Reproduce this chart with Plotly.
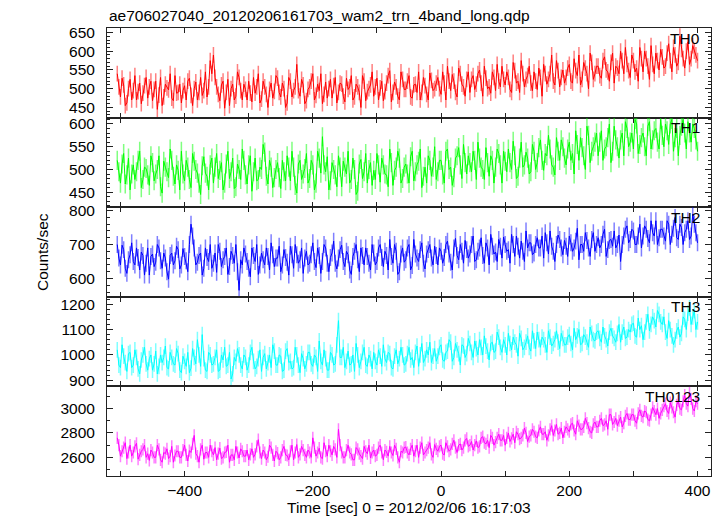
import plotly.graph_objects as go
from plotly.subplots import make_subplots

TITLE = "ae706027040_20120206161703_wam2_trn_4band_long.qdp"
BANDS = ["TH0", "TH1", "TH2", "TH3", "TH0123"]
# bin start times (s) and the in-between bin times (s)
TIME_A = [t for t in range(-505, 401, 5)]
TIME_B = [t + 2.5 for t in range(-505, 400, 5)]

TH0_A = [540, 478, 510, 462, 525, 495, 470, 515, 488, 530,
         505, 468, 520, 483, 455, 512, 497, 475, 535, 490,
         462, 508, 520, 482, 500, 470, 530, 495, 478, 575,
         590, 505, 468, 520, 490, 455, 512, 480, 530, 470,
         498, 520, 465, 488, 540, 472, 505, 450, 515, 493,
         528, 478, 500, 462, 520, 495, 565, 480, 510, 468,
         505, 540, 482, 495, 460, 518, 500, 475, 530, 490,
         512, 465, 498, 535, 478, 505, 450, 520, 492, 510,
         480, 528, 502, 468, 515, 548, 490, 505, 470, 525,
         498, 535, 475, 512, 545, 490, 508, 470, 522, 500,
         530, 485, 515, 560, 495, 520, 478, 540, 505, 525,
         490, 535, 512, 550, 480, 528, 505, 545, 495, 520,
         560, 510, 530, 490, 548, 520, 575, 505, 535, 515,
         545, 498, 530, 565, 512, 540, 520, 575, 505, 550,
         530, 565, 515, 548, 590, 525, 555, 500, 570, 540,
         560, 528, 585, 545, 570, 515, 555, 600, 540, 565,
         530, 575, 555, 610, 545, 580, 525, 565, 595, 550,
         585, 560, 620, 545, 590, 570, 605, 555, 625, 580,
         600, 575]
TH0_B = [505, 528, 455, 500, 470, 535, 492, 460, 508, 475,
         520, 498, 445, 530, 478, 502, 540, 468, 488, 512,
         495, 470, 528, 455, 518, 490, 482, 545, 505, 540,
         530, 485, 510, 448, 525, 500, 470, 545, 495, 512,
         470, 488, 530, 505, 462, 520, 485, 498, 475, 535,
         490, 515, 450, 530, 478, 505, 495, 525, 460, 498,
         520, 470, 512, 540, 485, 475, 525, 508, 462, 515,
         480, 528, 505, 470, 512, 490, 535, 468, 500, 545,
         505, 470, 520, 492, 535, 465, 518, 480, 545, 498,
         520, 478, 510, 490, 470, 530, 485, 542, 495, 515,
         500, 545, 470, 520, 538, 490, 555, 512, 480, 545,
         525, 498, 540, 515, 560, 500, 488, 530, 565, 505,
         525, 545, 498, 570, 515, 490, 540, 525, 560, 495,
         520, 555, 480, 540, 525, 590, 510, 548, 530, 515,
         555, 520, 580, 535, 510, 570, 540, 595, 525, 560,
         535, 575, 550, 520, 595, 560, 540, 575, 610, 548,
         590, 545, 520, 580, 600, 560, 615, 540, 575, 605,
         555, 595, 575, 610, 560, 640, 580, 600, 565, 615,
         590]

TH1_A = [520, 470, 535, 488, 455, 510, 495, 540, 478, 502,
         465, 515, 490, 530, 448, 505, 482, 520, 468, 498,
         540, 475, 505, 460, 518, 492, 445, 528, 485, 510,
         470, 535, 498, 455, 512, 480, 525, 462, 500, 545,
         488, 510, 452, 525, 478, 500, 538, 468, 505, 482,
         515, 458, 495, 530, 475, 505, 448, 520, 490, 535,
         480, 510, 470, 525, 572, 495, 455, 515, 488, 530,
         462, 505, 540, 478, 500, 452, 522, 495, 470, 515,
         498, 535, 472, 510, 488, 545, 465, 505, 525, 480,
         512, 470, 540, 495, 518, 460, 505, 530, 485, 550,
         495, 520, 470, 545, 505, 482, 530, 510, 555, 490,
         515, 540, 478, 525, 500, 548, 485, 520, 505, 535,
         470, 518, 545, 500, 530, 485, 560, 510, 525, 495,
         540, 515, 565, 498, 530, 545, 505, 570, 520, 550,
         510, 560, 535, 585, 520, 548, 500, 575, 540, 560,
         530, 585, 545, 570, 515, 595, 550, 565, 530, 590,
         560, 545, 600, 555, 580, 530, 605, 565, 590, 545,
         575, 600, 555, 610, 570, 530, 595, 580, 605, 560,
         590, 540]
TH1_B = [495, 512, 468, 525, 490, 478, 520, 460, 505, 488,
         530, 475, 500, 462, 518, 495, 545, 485, 510, 455,
         490, 520, 478, 535, 500, 470, 508, 492, 455, 525,
         505, 480, 515, 470, 540, 495, 458, 512, 478, 520,
         468, 530, 495, 475, 505, 555, 485, 520, 460, 500,
         482, 520, 475, 505, 540, 465, 512, 478, 502, 470,
         520, 455, 540, 492, 510, 528, 475, 500, 462, 505,
         518, 490, 470, 525, 445, 512, 480, 535, 500, 465,
         478, 510, 525, 490, 462, 515, 498, 540, 470, 505,
         490, 528, 475, 510, 545, 485, 470, 520, 505, 478,
         520, 488, 540, 500, 465, 525, 548, 480, 515, 530,
         495, 520, 560, 505, 478, 515, 530, 470, 545, 510,
         540, 495, 515, 562, 480, 525, 505, 538, 490, 555,
         500, 548, 520, 535, 575, 510, 488, 540, 565, 525,
         545, 520, 490, 555, 570, 530, 595, 515, 550, 580,
         560, 520, 550, 600, 540, 565, 525, 580, 605, 550,
         580, 610, 535, 570, 550, 595, 545, 585, 560, 610,
         550, 585, 600, 540, 590, 575, 610, 545, 580, 600,
         565]

TH2_A = [700, 640, 685, 615, 670, 650, 690, 625, 668, 645,
         610, 672, 648, 690, 630, 660, 598, 675, 652, 685,
         640, 665, 620, 760, 690, 648, 675, 630, 662, 700,
         645, 618, 680, 655, 690, 635, 668, 700, 565, 640,
         672, 630, 690, 650, 612, 675, 640, 665, 705, 635,
         660, 620, 685, 648, 695, 630, 670, 655, 615, 680,
         645, 705, 632, 668, 650, 690, 620, 675, 645, 660,
         698, 635, 670, 612, 680, 655, 690, 640, 665, 625,
         675, 650, 700, 635, 668, 715, 645, 680, 620, 690,
         655, 700, 638, 672, 650, 705, 628, 685, 660, 695,
         640, 680, 662, 710, 648, 690, 668, 700, 645, 685,
         672, 725, 655, 690, 668, 705, 640, 695, 678, 715,
         660, 700, 685, 730, 665, 695, 710, 650, 690, 705,
         675, 720, 690, 660, 705, 740, 680, 700, 715, 670,
         695, 725, 680, 710, 655, 700, 735, 690, 715, 680,
         720, 700, 745, 685, 715, 740, 700, 650, 725, 755,
         715, 740, 700, 760, 725, 745, 705, 735, 770, 720,
         745, 710, 760, 730, 780, 715, 750, 735, 770, 725,
         760, 705]
TH2_B = [660, 698, 630, 655, 705, 640, 662, 678, 610, 690,
         665, 635, 700, 652, 675, 620, 668, 640, 695, 628,
         688, 652, 700, 725, 640, 668, 610, 690, 650, 630,
         675, 700, 635, 665, 612, 680, 645, 620, 655, 690,
         650, 605, 668, 700, 640, 655, 690, 625, 670, 660,
         695, 640, 662, 610, 670, 700, 645, 690, 660, 640,
         670, 650, 690, 615, 700, 645, 662, 710, 628, 685,
         650, 680, 625, 665, 700, 620, 668, 690, 645, 700,
         640, 690, 662, 680, 625, 665, 700, 612, 672, 648,
         690, 625, 715, 660, 685, 645, 672, 700, 640, 668,
         690, 645, 700, 672, 625, 718, 655, 680, 712, 660,
         700, 650, 680, 720, 645, 690, 730, 672, 650, 695,
         722, 680, 645, 700, 725, 660, 680, 740, 705, 670,
         700, 690, 725, 735, 672, 695, 650, 728, 690, 712,
         665, 705, 690, 748, 700, 680, 712, 665, 735, 700,
         690, 730, 665, 712, 695, 690, 728, 700, 745, 705,
         745, 700, 725, 690, 755, 718, 770, 725, 700, 745,
         725, 770, 700, 748, 720, 760, 700, 745, 715, 790,
         735]

TH3_A = [1020, 950, 995, 935, 1010, 960, 990, 925, 1000, 965,
         985, 940, 1015, 955, 970, 1035, 945, 990, 960, 1005,
         930, 975, 1010, 948, 990, 1060, 955, 985, 935, 1000,
         965, 1020, 940, 980, 955, 1010, 925, 975, 1000, 945,
         990, 960, 1030, 945, 985, 935, 1005, 970, 950, 1015,
         960, 995, 940, 1025, 975, 950, 1000, 930, 985, 965,
         1010, 955, 990, 1055, 960, 985, 940, 1000, 965, 1135,
         990, 950, 1015, 965, 935, 1000, 975, 1030, 955, 985,
         1010, 960, 995, 1040, 970, 1005, 945, 1020, 985, 1000,
         965, 1030, 990, 1010, 955, 1045, 985, 1000, 970, 1025,
         995, 1040, 975, 1015, 1050, 990, 1020, 960, 1035, 1005,
         1045, 990, 1025, 1060, 1000, 1035, 980, 1050, 1015, 1070,
         1010, 1040, 1085, 1020, 1050, 995, 1065, 1030, 1075, 1015,
         1055, 1090, 1030, 1060, 1010, 1070, 1045, 1095, 1025, 1065,
         1040, 1080, 1020, 1060, 1100, 1045, 1070, 1030, 1085, 1055,
         1095, 1050, 1075, 1035, 1105, 1065, 1085, 1050, 1110, 1070,
         1090, 1125, 1070, 1100, 1060, 1130, 1095, 1150, 1110, 1160,
         1120, 1090, 1135, 1075, 1060, 1110, 1085, 1140, 1165, 1120,
         1175, 1130]
TH3_B = [960, 1040, 970, 1005, 950, 1020, 945, 980, 1030, 940,
         1000, 965, 925, 1000, 990, 950, 1010, 965, 1025, 940,
         995, 955, 930, 1025, 965, 1000, 1080, 940, 1010, 960,
         990, 935, 1000, 1030, 960, 905, 990, 1025, 960, 1000,
         940, 1010, 975, 955, 1020, 990, 945, 1000, 1040, 960,
         1000, 935, 1015, 970, 945, 1030, 960, 1005, 945, 1010,
         965, 1000, 935, 975, 1020, 940, 1010, 960, 1040, 990,
         1030, 975, 960, 1000, 1045, 950, 1010, 960, 1000, 945,
         975, 1020, 955, 985, 1010, 950, 995, 965, 1030, 960,
         1005, 980, 950, 1035, 1000, 970, 1020, 1050, 995, 975,
         1030, 980, 1010, 1060, 975, 1045, 1005, 1040, 990, 1065,
         1010, 1055, 1000, 1030, 1075, 1015, 1045, 1010, 1090, 1030,
         1060, 1000, 1045, 1070, 1040, 1085, 1020, 1050, 1030, 1095,
         1025, 1060, 1070, 1040, 1095, 1035, 1060, 1050, 1085, 1040,
         1070, 1045, 1105, 1075, 1040, 1080, 1050, 1110, 1060, 1090,
         1065, 1110, 1060, 1090, 1075, 1050, 1120, 1090, 1065, 1100,
         1120, 1075, 1145, 1115, 1090, 1160, 1120, 1135, 1175, 1130,
         1150, 1065, 1100, 1040, 1095, 1070, 1150, 1100, 1185, 1150,
         1100]

TH0123_A = [2760, 2610, 2680, 2590, 2700, 2640, 2715, 2620, 2665, 2600,
            2575, 2640, 2600, 2665, 2560, 2630, 2590, 2690, 2615, 2650,
            2600, 2700, 2570, 2640, 2780, 2610, 2665, 2585, 2640, 2700,
            2620, 2580, 2675, 2600, 2645, 2560, 2620, 2690, 2595, 2650,
            2610, 2580, 2670, 2625, 2745, 2590, 2640, 2605, 2680, 2570,
            2635, 2600, 2690, 2615, 2650, 2580, 2705, 2625, 2660, 2600,
            2640, 2760, 2610, 2675, 2590, 2650, 2700, 2620, 2665, 2830,
            2640, 2600, 2700, 2625, 2580, 2665, 2610, 2690, 2630, 2595,
            2660, 2620, 2700, 2580, 2645, 2690, 2615, 2670, 2560, 2640,
            2685, 2620, 2700, 2650, 2600, 2720, 2640, 2680, 2625, 2705,
            2650, 2700, 2620, 2690, 2665, 2740, 2640, 2710, 2680, 2755,
            2700, 2660, 2735, 2690, 2770, 2710, 2680, 2760, 2725, 2790,
            2740, 2700, 2800, 2755, 2720, 2790, 2760, 2840, 2730, 2780,
            2810, 2760, 2850, 2790, 2740, 2830, 2780, 2870, 2800, 2760,
            2850, 2810, 2880, 2790, 2860, 2830, 2920, 2840, 2800, 2890,
            2850, 2920, 2870, 2830, 2950, 2890, 2860, 2930, 2880, 2960,
            2910, 2950, 2880, 2990, 2930, 2970, 2900, 3010, 2950, 2920,
            2990, 3040, 2960, 3010, 2930, 3060, 2990, 3110, 3020, 3080,
            2980, 3040]
TH0123_B = [2700, 2650, 2720, 2640, 2610, 2690, 2585, 2650, 2700, 2630,
            2660, 2600, 2700, 2580, 2640, 2670, 2610, 2560, 2650, 2600,
            2660, 2620, 2655, 2710, 2630, 2560, 2700, 2640, 2600, 2650,
            2680, 2630, 2590, 2640, 2700, 2620, 2580, 2640, 2670, 2610,
            2660, 2625, 2600, 2690, 2640, 2660, 2580, 2700, 2620, 2650,
            2580, 2660, 2620, 2580, 2700, 2640, 2600, 2690, 2620, 2660,
            2600, 2680, 2640, 2600, 2720, 2610, 2650, 2690, 2600, 2700,
            2600, 2660, 2640, 2580, 2680, 2630, 2590, 2650, 2700, 2640,
            2610, 2680, 2640, 2660, 2610, 2640, 2700, 2600, 2650, 2680,
            2640, 2670, 2610, 2700, 2680, 2620, 2660, 2720, 2600, 2670,
            2690, 2630, 2720, 2650, 2710, 2680, 2700, 2660, 2740, 2690,
            2730, 2700, 2680, 2760, 2720, 2740, 2780, 2700, 2760, 2740,
            2780, 2760, 2730, 2790, 2810, 2750, 2780, 2800, 2770, 2830,
            2770, 2820, 2790, 2810, 2780, 2860, 2820, 2790, 2840, 2810,
            2830, 2870, 2820, 2900, 2830, 2850, 2880, 2810, 2870, 2850,
            2900, 2860, 2900, 2950, 2870, 2920, 2900, 2850, 2940, 2910,
            2950, 2900, 2960, 2940, 2980, 2910, 2950, 2980, 3000, 2960,
            3020, 2980, 3050, 2970, 3030, 3000, 3060, 3040, 3130, 3000,
            3060]

SERIES_A = [TH0_A, TH1_A, TH2_A, TH3_A, TH0123_A]
SERIES_B = [TH0_B, TH1_B, TH2_B, TH3_B, TH0123_B]
ERRORS = [21, 21, 25, 31, 50]
Y_RANGES = [[423, 662], [417, 614], [546, 810], [876, 1229], [2447, 3182]]
Y_DTICK = [50, 50, 100, 100, 200]
Y_MINOR = [10, 10, 20, 20, 100]
X_TICKS = list(range(-500, 401, 100))
X_LABELS = [("\u2212%d" % -v if v < 0 else "%d" % v) if v % 200 == 0 else "" for v in X_TICKS]

COLORS = ["#ff0000", "#00ff00", "#0000ff", "#00ffff", "#ff00ff"]
LIGHT = ["rgba(255,0,0,0.5)", "rgba(0,255,0,0.5)", "rgba(0,0,255,0.5)",
         "rgba(0,255,255,0.5)", "rgba(255,0,255,0.5)"]

FONT = "Liberation Sans, Arial, Helvetica, sans-serif"
FRAME = "#222222"


def merge(ta, va, tb, vb):
    pts = sorted(list(zip(ta, va)) + list(zip(tb, vb)))
    return [p[0] for p in pts], [p[1] for p in pts]


fig = make_subplots(rows=5, cols=1, shared_xaxes=True, vertical_spacing=0)

for i, name in enumerate(BANDS):
    r = i + 1
    xs, ys = merge(TIME_A, SERIES_A[i], TIME_B, SERIES_B[i])
    fig.add_trace(go.Scatter(
        x=xs, y=ys, mode="lines", name=name,
        line=dict(color=COLORS[i], width=1),
        error_y=dict(type="constant", value=ERRORS[i], color=LIGHT[i],
                     thickness=1.5, width=0),
        showlegend=False, hoverinfo="skip"), row=r, col=1)
    fig.update_yaxes(range=Y_RANGES[i], dtick=Y_DTICK[i], ticks="inside", ticklen=6,
                     tickwidth=1, tickcolor=FRAME,
                     minor=dict(dtick=Y_MINOR[i], ticks="inside", ticklen=3,
                                tickcolor=FRAME, showgrid=False),
                     showline=True, linecolor=FRAME, linewidth=1, mirror="allticks",
                     showgrid=False, zeroline=False,
                     tickfont=dict(family=FONT, size=15.5, color="black"),
                     ticklabelstandoff=8, row=r, col=1)
    fig.update_xaxes(range=[-521, 421], tickvals=X_TICKS, ticktext=X_LABELS,
                     ticks="inside", ticklen=5, tickwidth=1, tickcolor=FRAME,
                     showline=True, linecolor=FRAME, linewidth=1, mirror="allticks",
                     showgrid=False, zeroline=False,
                     tickfont=dict(family=FONT, size=15.5, color="black"),
                     row=r, col=1)
    xd = "x domain" if r == 1 else "x%d domain" % r
    yd = "y domain" if r == 1 else "y%d domain" % r
    fig.add_annotation(text=name, xref=xd, yref=yd, x=0.985, y=1, yshift=-10,
                       xanchor="right", yanchor="middle", showarrow=False,
                       font=dict(family=FONT, size=15.5, color="black"))

fig.add_annotation(text=TITLE, xref="paper", yref="paper", x=0, y=1.029,
                   xanchor="left", yanchor="middle", showarrow=False,
                   font=dict(family=FONT, size=15.5, color="black"))
fig.add_annotation(text="Counts/sec", xref="paper", yref="paper", x=-0.1076, y=0.5,
                   textangle=-90, xanchor="center", yanchor="middle", showarrow=False,
                   font=dict(family=FONT, size=15.5, color="black"))
fig.add_annotation(text="Time [sec] 0 = 2012/02/06 16:17:03", xref="paper", yref="paper",
                   x=0.5, y=-0.0714, xanchor="center", yanchor="middle", showarrow=False,
                   font=dict(family=FONT, size=15.5, color="black"))

# the page body adds an 8 px offset, so the figure is sized to compensate
fig.update_layout(width=715, height=508, margin=dict(l=99, r=12, t=20, b=40),
                  paper_bgcolor="white", plot_bgcolor="white",
                  font=dict(family=FONT, color="black"))

fig.write_html("out.html")
